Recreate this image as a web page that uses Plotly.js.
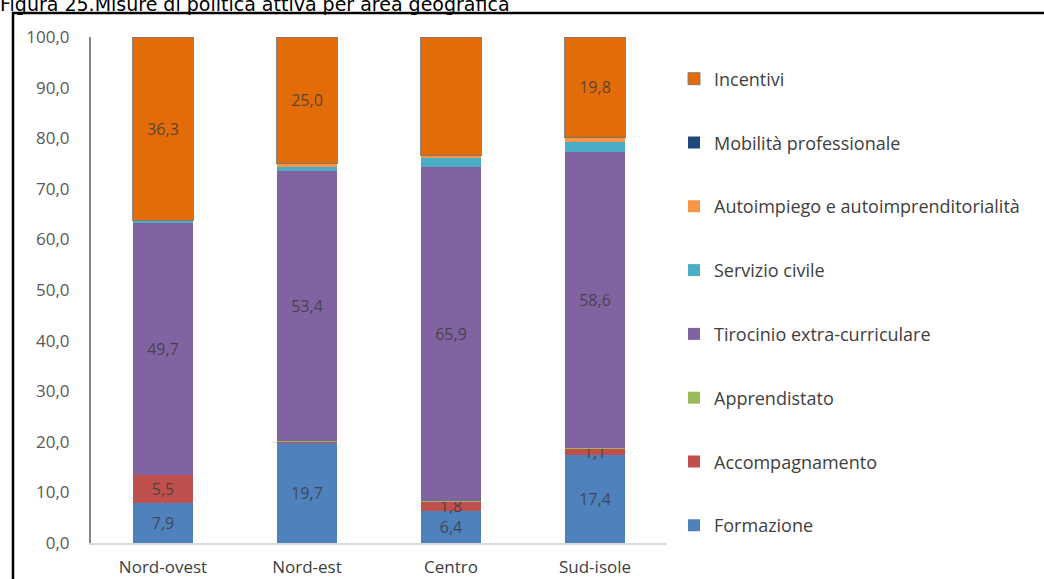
<!DOCTYPE html>
<html>
<head>
<meta charset="utf-8">
<script src="https://cdn.plot.ly/plotly-3.0.1.min.js"></script>
<style>
html,body{margin:0;padding:0;background:#fff;}
#chart{width:1044px;height:579px;}
</style>
</head>
<body>
<div id="chart"></div>
<script>
const categories = ["Nord-ovest", "Nord-est", "Centro", "Sud-isole"];
const seriesNames = ["Formazione", "Accompagnamento", "Apprendistato", "Tirocinio extra-curriculare", "Servizio civile", "Autoimpiego e autoimprenditorialità", "Mobilità professionale", "Incentivi"];
const formazione      = [7.9, 19.7, 6.4, 17.4];
const accompagnamento = [5.5, 0.3, 1.8, 1.1];
const apprendistato   = [0.1, 0.1, 0.2, 0.2];
const tirocinio       = [49.7, 53.4, 65.9, 58.6];
const servizioCivile  = [0.4, 0.9, 1.7, 1.9];
const autoimpiego     = [0.1, 0.6, 0.5, 0.9];
const mobilita        = [0.0, 0.0, 0.0, 0.1];
const incentivi       = [36.3, 25.0, 23.5, 19.8];
const yTicks = [0, 10, 20, 30, 40, 50, 60, 70, 80, 90, 100];
const yTickLabels = ["0,0", "10,0", "20,0", "30,0", "40,0", "50,0", "60,0", "70,0", "80,0", "90,0", "100,0"];

const seriesValues = [formazione, accompagnamento, apprendistato, tirocinio, servizioCivile, autoimpiego, mobilita, incentivi];
const colors = ["#4F81BD", "#C0504D", "#9BBB59", "#8064A2", "#4BACC6", "#F79646", "#1F497D", "#E36C09"];
const labelled = [true, true, false, true, false, false, false, true];

const fmt = v => v.toFixed(1).replace(".", ",");
const FONT = "'Open Sans', Lato, sans-serif";

const traces = seriesNames.map((name, i) => ({
  type: "bar",
  name: name,
  x: categories,
  y: seriesValues[i],
  legendgroup: "g" + i,
  legendrank: 100 - i,
  marker: {
    color: colors[i],
    line: i === 7 ? {color: "rgba(130,120,110,0.9)", width: 1} : {width: 0}
  },
  text: labelled[i] ? seriesValues[i].map(v => v >= 1 ? fmt(v) : "") : seriesValues[i].map(() => ""),
  textposition: "inside",
  insidetextanchor: "middle",
  constraintext: "none",
  textangle: 0,
  textfont: {family: FONT, size: 16, color: "rgba(60,60,60,0.85)"},
  hoverinfo: "name+y",
  cliponaxis: false
}));

const X0 = 91, W = 576, Y0 = 543, H = 506;
const px = x => (x - X0) / W;
const py = y => (Y0 - y) / H;

const layout = {
  width: 1044,
  height: 579,
  margin: {l: 91, r: 1044 - 667, t: 37, b: 579 - 543, pad: 0},
  paper_bgcolor: "#ffffff",
  plot_bgcolor: "#ffffff",
  barmode: "stack",
  bargap: 0.58,
  font: {family: FONT, color: "#595959"},
  title: {
    text: "Figura 25.Misure di politica attiva per area geografica",
    font: {family: "'DejaVu Sans', Verdana, sans-serif", size: 19, color: "#000000"},
    xref: "container", x: 0, xanchor: "left",
    yref: "container", y: 1 - 4 / 579, yanchor: "middle",
    pad: {t: 0, b: 0, l: 0, r: 0}
  },
  xaxis: {
    type: "category",
    showgrid: false,
    showline: true,
    linecolor: "#D9D9D9",
    linewidth: 1.5,
    ticks: "",
    tickfont: {size: 17, color: "#404040"},
    ticklabelstandoff: 8,
    fixedrange: true
  },
  yaxis: {
    range: [0, 100],
    tickvals: yTicks,
    ticktext: yTickLabels,
    showgrid: false,
    zeroline: false,
    showline: true,
    linecolor: "#868686",
    linewidth: 2,
    ticks: "",
    tickfont: {size: 17, color: "#595959"},
    ticklabelstandoff: 16,
    fixedrange: true
  },
  legend: {
    x: px(674), xanchor: "left",
    y: py(60.5), yanchor: "top",
    traceorder: "grouped",
    tracegroupgap: 37.4,
    font: {size: 18, color: "#404040"},
    bgcolor: "rgba(0,0,0,0)",
    borderwidth: 0
  },
  showlegend: true,
  shapes: [{
    type: "path",
    xref: "paper", yref: "paper",
    path: `M ${px(13)} ${py(600)} L ${px(13)} ${py(13)} L ${px(1060)} ${py(13)}`,
    line: {color: "#000000", width: 2.5},
    layer: "above"
  }]
};

Plotly.newPlot("chart", traces, layout, {displayModeBar: false, staticPlot: true});
</script>
</body>
</html>
